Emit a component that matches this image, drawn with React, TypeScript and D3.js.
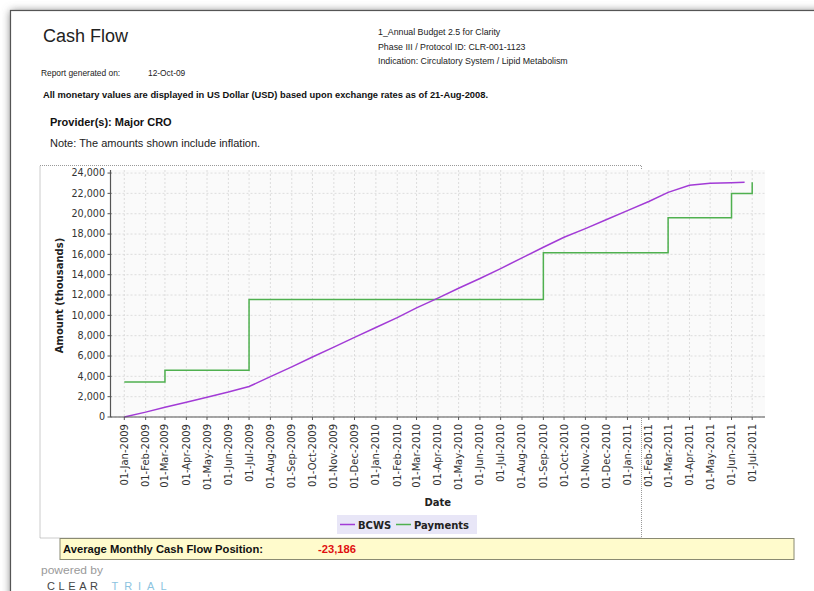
import React from "react";
import * as d3 from "d3";

const bcwsDates = [
  "2009-01-01","2009-02-01","2009-03-01","2009-04-01","2009-05-01","2009-06-01",
  "2009-07-01","2009-08-01","2009-09-01","2009-10-01","2009-11-01","2009-12-01",
  "2010-01-01","2010-02-01","2010-03-01","2010-04-01","2010-05-01","2010-06-01",
  "2010-07-01","2010-08-01","2010-09-01","2010-10-01","2010-11-01","2010-12-01",
  "2011-01-01","2011-02-01","2011-03-01","2011-04-01","2011-05-01","2011-06-01","2011-06-20",
];
const bcwsValues = [
  0, 480, 960, 1450, 1950, 2450,
  3000, 3970, 4930, 5900, 6870, 7830,
  8800, 9770, 10730, 11700, 12670, 13630,
  14600, 15650, 16700, 17680, 18530, 19400,
  20300, 21200, 22100, 22800, 23000, 23050, 23100,
];
const paymentDates = ["2009-01-01","2009-03-01","2009-07-01","2010-09-01","2011-03-01","2011-06-01","2011-07-01"];
const paymentValues = [3450, 4600, 11550, 16150, 19600, 22000, 23100];
const yTickValues = [0,2000,4000,6000,8000,10000,12000,14000,16000,18000,20000,22000,24000];
const seriesNames = ["BCWS", "Payments"];
const seriesColors = ["#a23bd6", "#4fb04f"];

const headerRight = [
  "1_Annual Budget 2.5 for Clarity",
  "Phase III / Protocol ID: CLR-001-1123",
  "Indication: Circulatory System / Lipid Metabolism",
];

const parse = d3.utcParse("%Y-%m-%d");
const SANS = "'Liberation Sans', Arial, Helvetica, sans-serif";
const CHART = "'DejaVu Sans', Verdana, sans-serif";

export default function App() {
  const plot = { l: 110.5, r: 765, t: 170, b: 417 };
  const x = d3.scaleUtc().domain([parse("2009-01-01")!, parse("2011-07-01")!]).range([124.3, 752.2]);
  const y = d3.scaleLinear().domain([0, 24300]).range([plot.b, plot.t]);
  const months = d3.utcMonth.range(parse("2009-01-01")!, parse("2011-07-02")!);
  const fmtDate = d3.utcFormat("%d-%b-%Y");
  const fmtNum = d3.format(",");

  const bcws = bcwsDates.map((d, i) => ({ d: parse(d)!, v: bcwsValues[i] }));
  const pay = paymentDates.map((d, i) => ({ d: parse(d)!, v: paymentValues[i] }));
  const line = d3.line<{ d: Date; v: number }>().x((p) => x(p.d)).y((p) => y(p.v));
  const stepLine = d3.line<{ d: Date; v: number }>().curve(d3.curveStepAfter).x((p) => x(p.d)).y((p) => y(p.v));

  return (
    <svg width={814} height={591} style={{ position: "absolute", left: 0, top: 0, background: "#fff" }}>
      <defs>
        <filter id="shadow" x="-5%" y="-5%" width="110%" height="110%">
          <feGaussianBlur stdDeviation="4" />
        </filter>
      </defs>
      {/* paper */}
      <rect x={10.5} y={11} width={820} height={620} fill="#7a7a7a" filter="url(#shadow)" />
      <rect x={10.5} y={10.5} width={820} height={620} fill="#fff" stroke="#555" strokeWidth={1.2} />

      {/* header */}
      <text x={43} y={42} fontFamily={SANS} fontSize={18} fill="#222">Cash Flow</text>
      <text x={41} y={76} fontFamily={SANS} fontSize={8.4} fill="#222">Report generated on:</text>
      <text x={148} y={76} fontFamily={SANS} fontSize={8.4} fill="#222">12-Oct-09</text>
      {headerRight.map((t, i) => (
        <text key={t} x={378} y={35 + i * 14.5} fontFamily={SANS} fontSize={8.8} fill="#222">{t}</text>
      ))}
      <text x={43} y={98} fontFamily={SANS} fontSize={8.6} fontWeight="bold" fill="#111" textLength={445} lengthAdjust="spacingAndGlyphs">
        All monetary values are displayed in US Dollar (USD) based upon exchange rates as of 21-Aug-2008.
      </text>
      <text x={50} y={126} fontFamily={SANS} fontSize={11} fontWeight="bold" fill="#111">Provider(s): Major CRO</text>
      <text x={50} y={147} fontFamily={SANS} fontSize={11} fill="#222">Note: The amounts shown include inflation.</text>

      {/* chart container */}
      <rect x={40} y={165.5} width={601.5} height={372.5} fill="none" stroke="#999" strokeWidth={1} strokeDasharray="1,1" />

      {/* plot area */}
      <rect x={plot.l} y={plot.t} width={plot.r - plot.l} height={plot.b - plot.t} fill="#fafafa" />
      {months.map((m) => (
        <line key={"gx" + m.getTime()} x1={x(m)} x2={x(m)} y1={plot.t} y2={plot.b} stroke="#d6d6d6" strokeWidth={0.8} strokeDasharray="2,2" />
      ))}
      {yTickValues.map((v) => (
        <line key={"gy" + v} x1={plot.l} x2={plot.r} y1={y(v)} y2={y(v)} stroke="#d6d6d6" strokeWidth={0.8} strokeDasharray="2,2" />
      ))}

      {/* series */}
      <path d={stepLine(pay) || ""} fill="none" stroke={seriesColors[1]} strokeWidth={1.5} />
      <path d={line(bcws) || ""} fill="none" stroke={seriesColors[0]} strokeWidth={1.5} />

      {/* axes */}
      <line x1={plot.l} x2={plot.l} y1={plot.t} y2={plot.b} stroke="#555" strokeWidth={1.2} />
      <line x1={plot.l} x2={plot.r} y1={plot.b} y2={plot.b} stroke="#555" strokeWidth={1.2} />
      {yTickValues.map((v) => (
        <g key={"ty" + v}>
          <line x1={plot.l - 3} x2={plot.l + 1} y1={y(v)} y2={y(v)} stroke="#555" />
          <text x={105} y={y(v)} dy="0.35em" textAnchor="end" fontFamily={CHART} fontSize={9.6} fill="#333">{fmtNum(v)}</text>
        </g>
      ))}
      {months.map((m) => (
        <g key={"tx" + m.getTime()}>
          <line x1={x(m)} x2={x(m)} y1={plot.b} y2={plot.b + 3} stroke="#555" />
          <text transform={`translate(${x(m)},${plot.b + 7}) rotate(-90)`} dy="0.35em" textAnchor="end" fontFamily={CHART} fontSize={10} fill="#333">
            {fmtDate(m)}
          </text>
        </g>
      ))}
      <text transform={`translate(63,${(plot.t + plot.b) / 2 + 2}) rotate(-90)`} textAnchor="middle" fontFamily={CHART} fontSize={10} fontWeight="bold" fill="#222">
        Amount (thousands)
      </text>
      <text x={(plot.l + plot.r) / 2} y={506} textAnchor="middle" fontFamily={CHART} fontSize={10} fontWeight="bold" fill="#222">Date</text>

      {/* legend */}
      <rect x={337} y={515} width={140} height={19} fill="#e8e6f7" />
      <line x1={340} x2={355} y1={524.5} y2={524.5} stroke={seriesColors[0]} strokeWidth={1.5} />
      <text x={358} y={528.5} fontFamily={CHART} fontSize={10} fontWeight="bold" fill="#222">{seriesNames[0]}</text>
      <line x1={396} x2={411} y1={524.5} y2={524.5} stroke={seriesColors[1]} strokeWidth={1.5} />
      <text x={414} y={528.5} fontFamily={CHART} fontSize={10} fontWeight="bold" fill="#222">{seriesNames[1]}</text>

      {/* summary box */}
      <rect x={60} y={538.5} width={734} height={21} fill="#fffbcc" stroke="#8a8a72" strokeWidth={1} />
      <text x={63} y={553} fontFamily={SANS} fontSize={10} fontWeight="bold" fill="#111" textLength={200} lengthAdjust="spacingAndGlyphs">
        Average Monthly Cash Flow Position:
      </text>
      <text x={318} y={553} fontFamily={SANS} fontSize={10} fontWeight="bold" fill="#e01010" textLength={38} lengthAdjust="spacingAndGlyphs">-23,186</text>

      {/* footer */}
      <text x={41} y={574} fontFamily={SANS} fontSize={11.5} fill="#9a9a9a" textLength={62} lengthAdjust="spacingAndGlyphs">powered by</text>
      <text x={47} y={589.5} fontFamily={SANS} fontSize={11} fill="#444" textLength={51} lengthAdjust="spacing">CLEAR</text>
      <text x={111.5} y={589.5} fontFamily={SANS} fontSize={11} fill="#8cc3e0" textLength={55} lengthAdjust="spacing">TRIAL</text>
    </svg>
  );
}
